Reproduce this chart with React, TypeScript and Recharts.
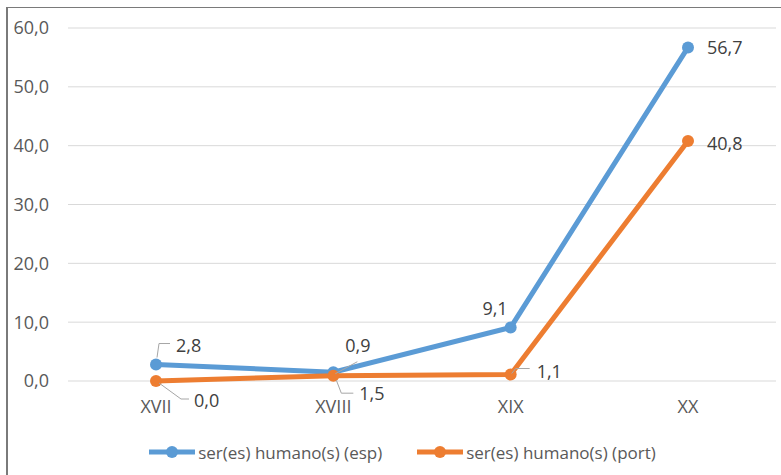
import React from "react";
import {
  LineChart,
  Line,
  CartesianGrid,
  XAxis,
  YAxis,
  Legend,
} from "recharts";

const centuries = ["XVII", "XVIII", "XIX", "XX"];
const espValues = [2.8, 1.5, 9.1, 56.7];
const portValues = [0.0, 0.9, 1.1, 40.8];
const yTicks = [0, 10, 20, 30, 40, 50, 60];

const ESP = "ser(es) humano(s) (esp)";
const PORT = "ser(es) humano(s) (port)";

const BLUE = "#5B9BD5";
const ORANGE = "#ED7D31";
const FONT = "'Open Sans', sans-serif";
const FS = 18;

const data = centuries.map((c, i) => ({
  century: c,
  esp: espValues[i],
  port: portValues[i],
}));

const fmt = (v: number) => v.toFixed(1).replace(".", ",");

// label placement relative to the point: text offset, anchor, optional leader line
type Place = { dx: number; dy: number; anchor?: string; leader?: number[][] };

const espPlaces: Place[] = [
  { dx: 20, dy: -20, leader: [[1, -7], [3, -21], [14, -21]] },
  { dx: 26, dy: 21, leader: [[3, 8], [8, 21], [20, 21]] },
  { dx: -3, dy: -19, anchor: "end" },
  { dx: 19, dy: 0 },
];

const portPlaces: Place[] = [
  { dx: 38, dy: 19, leader: [[3, 2], [25, 18], [33, 18]] },
  { dx: 12, dy: -31, leader: [[2, -2], [24, -14]] },
  { dx: 26, dy: -4, leader: [[1, -1], [5, -6], [19, -6]] },
  { dx: 19, dy: 2 },
];

const makeLabel = (places: Place[]) => (props: any) => {
  const { x, y, value, index } = props;
  const p = places[index];
  if (!p || x == null || y == null) return null;
  return (
    <g key={`lbl-${index}`}>
      {p.leader && (
        <polyline
          points={p.leader.map(([a, b]) => `${x + a},${y + b}`).join(" ")}
          fill="none"
          stroke="#A6A6A6"
          strokeWidth={1}
        />
      )}
      <text
        x={x + p.dx}
        y={y + p.dy}
        textAnchor={p.anchor || "start"}
        dominantBaseline="central"
        fontFamily={FONT}
        fontSize={FS}
        fill="#404040"
      >
        {fmt(value)}
      </text>
    </g>
  );
};

const LegendContent = () => {
  const items = [
    { name: ESP, color: BLUE },
    { name: PORT, color: ORANGE },
  ];
  return (
    <div
      style={{
        height: 36,
        display: "flex",
        justifyContent: "center",
        alignItems: "center",
        gap: 34,
        paddingLeft: 28,
        fontFamily: FONT,
        fontSize: 17,
        color: "#595959",
      }}
    >
      {items.map((it) => (
        <div key={it.name} style={{ display: "flex", alignItems: "center" }}>
          <svg width={48} height={16} style={{ marginRight: 2 }}>
            <line x1={1} y1={8} x2={47} y2={8} stroke={it.color} strokeWidth={5} />
            <circle cx={24} cy={8} r={6} fill={it.color} />
          </svg>
          <span>{it.name}</span>
        </div>
      ))}
    </div>
  );
};

export default function App() {
  return (
    <div
      style={{
        position: "fixed",
        left: 0,
        top: 0,
        width: 781,
        height: 475,
        background: "#fff",
      }}
    >
      <div
        style={{
          position: "absolute",
          left: 6,
          top: 7,
          right: 0,
          bottom: 0,
          borderLeft: "2px solid #7a7a7a",
          borderTop: "1px solid #7a7a7a",
          pointerEvents: "none",
        }}
      />
      <LineChart
        width={781}
        height={475}
        data={data}
        margin={{ top: 28, right: 5, left: 0, bottom: 5 }}
      >
        <CartesianGrid vertical={false} stroke="#D9D9D9" strokeWidth={1} />
        <XAxis
          dataKey="century"
          axisLine={false}
          tickLine={false}
          tickSize={0}
          tickMargin={19}
          height={53}
          padding={{ left: 88, right: 88 }}
          tick={{ fill: "#595959", fontSize: FS, fontFamily: FONT }}
        />
        <YAxis
          domain={[0, 60]}
          ticks={yTicks}
          tickFormatter={fmt}
          axisLine={false}
          tickLine={false}
          tickSize={0}
          tickMargin={19}
          width={68}
          tick={{ fill: "#595959", fontSize: FS, fontFamily: FONT }}
        />
        <Legend verticalAlign="bottom" content={<LegendContent />} />
        <Line
          type="linear"
          dataKey="esp"
          name={ESP}
          stroke={BLUE}
          strokeWidth={5}
          dot={{ r: 6, fill: BLUE, stroke: BLUE, strokeWidth: 0 }}
          label={makeLabel(espPlaces)}
          isAnimationActive={false}
        />
        <Line
          type="linear"
          dataKey="port"
          name={PORT}
          stroke={ORANGE}
          strokeWidth={5}
          dot={{ r: 6, fill: ORANGE, stroke: ORANGE, strokeWidth: 0 }}
          label={makeLabel(portPlaces)}
          isAnimationActive={false}
        />
      </LineChart>
    </div>
  );
}
